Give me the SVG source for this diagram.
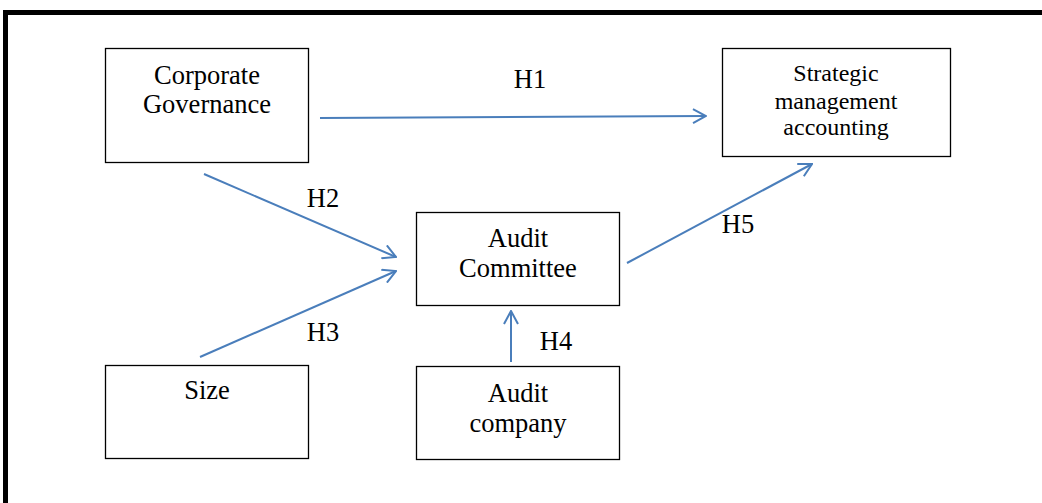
<svg xmlns="http://www.w3.org/2000/svg" width="1042" height="503" viewBox="0 0 1042 503">
<defs>
<marker id="ah" viewBox="0 0 16 16" refX="15" refY="8" markerWidth="16" markerHeight="16" markerUnits="userSpaceOnUse" orient="auto">
<path d="M2,1 L15,8 L2,15" fill="none" stroke="#4a7ebb" stroke-width="2"/>
</marker>
</defs>
<style>
.box{fill:#fff;stroke:#000;stroke-width:1.3}
.t{font-family:"Liberation Serif","Times New Roman",serif;font-size:26.5px;fill:#000;text-anchor:middle}
.s{font-size:24px}
.c{stroke:#4a7ebb;stroke-width:2;fill:none;marker-end:url(#ah)}
</style>
<rect x="0" y="0" width="1042" height="503" fill="#fff"/>
<path d="M5.5,503 L5.5,12.5 L1042,12.5" fill="none" stroke="#000" stroke-width="5"/>
<g id="corp"><rect class="box" x="105.5" y="48.5" width="203" height="114"/><text class="t" x="207" y="84">Corporate</text><text class="t" x="207" y="113">Governance</text></g>
<g id="sma"><rect class="box" x="722.5" y="48.5" width="228" height="108"/><text class="t s" x="836" y="81">Strategic</text><text class="t s" x="836" y="109">management</text><text class="t s" x="836" y="135">accounting</text></g>
<g id="ac"><rect class="box" x="416.5" y="212.5" width="203" height="93"/><text class="t" x="518" y="247">Audit</text><text class="t" x="518" y="277">Committee</text></g>
<g id="size"><rect class="box" x="105.5" y="365.5" width="203" height="93"/><text class="t" x="207" y="399">Size</text></g>
<g id="acomp"><rect class="box" x="416.5" y="366.5" width="203" height="93"/><text class="t" x="518" y="402">Audit</text><text class="t" x="518" y="432">company</text></g>
<g id="connectors">
<line class="c" x1="320" y1="118" x2="706" y2="116"/>
<line class="c" x1="204" y1="174" x2="396" y2="257"/>
<line class="c" x1="200" y1="357" x2="396" y2="271"/>
<line class="c" x1="511" y1="362" x2="511" y2="311"/>
<line class="c" x1="627" y1="263" x2="812" y2="164"/>
<text class="t" x="530" y="88">H1</text>
<text class="t" x="323" y="207">H2</text>
<text class="t" x="323" y="341">H3</text>
<text class="t" x="556" y="350">H4</text>
<text class="t" x="738" y="233">H5</text>
</g>
</svg>
